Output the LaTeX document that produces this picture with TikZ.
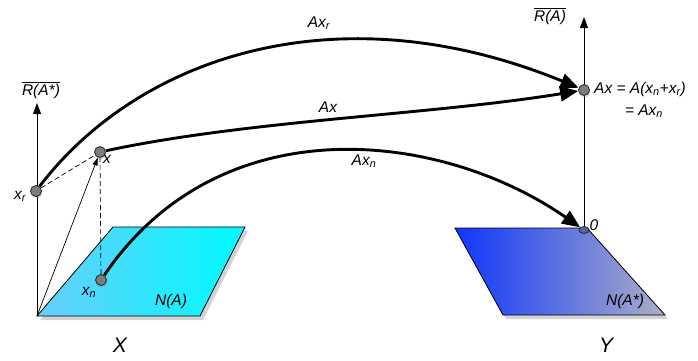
\documentclass[tikz,border=0pt]{standalone}
\usepackage{fontspec}
\setmainfont{Liberation Sans}
\usetikzlibrary{arrows.meta,shadows,shapes.geometric}
\pgfdeclarelayer{planes}
\pgfdeclarelayer{lines}
\pgfsetlayers{planes,lines,main}
\definecolor{cyanL}{RGB}{105,205,250}
\definecolor{cyanR}{RGB}{0,250,255}
\definecolor{blueL}{RGB}{15,55,250}
\definecolor{blueR}{RGB}{172,174,200}
\definecolor{ptgray}{RGB}{125,125,125}
\definecolor{zeroblue}{RGB}{85,100,165}
\newcommand{\subx}[1]{\textsubscript{#1}}
\begin{document}
\begin{tikzpicture}[x=1pt,y=-1pt,
  lbl/.style={font=\fontsize{15.5}{18}\selectfont\itshape, inner sep=0pt},
  bigl/.style={font=\fontsize{21}{24}\selectfont\itshape, inner sep=0pt},
  pt/.style={circle, draw=black!85, line width=0.8pt, fill=ptgray, minimum size=11pt, inner sep=0pt,
    drop shadow={shadow xshift=1pt,shadow yshift=-2pt,opacity=0.3}},
  zpt/.style={ellipse, draw=black!85, line width=0.8pt, fill=zeroblue, minimum width=10pt, minimum height=7pt, inner sep=0pt},
  map/.style={line width=2.9pt, -{Triangle[length=18pt,width=15pt]}},
  axisl/.style={line width=0.8pt, -{Triangle[length=11pt,width=8pt]}},
  thin/.style={line width=0.7pt},
  plane/.style={draw=black, line width=0.8pt,
    drop shadow={shadow xshift=3pt,shadow yshift=-4pt,opacity=0.35}}
]
\useasboundingbox (0,0) rectangle (698,360);

% points
\coordinate (O) at (37,316);
\coordinate (Rs) at (37,103);
\coordinate (O2) at (584,229);
\coordinate (Rt) at (584,17);
\node[pt] (xr) at (36,191) {};
\node[pt] (x) at (100,152) {};
\node[pt] (xn) at (101,280) {};
\node[pt] (Ax) at (584,90) {};
\node[zpt] (zero) at (584,230) {};

\begin{pgfonlayer}{planes}
\shade[plane, left color=cyanL, right color=cyanR]
  (37,316) -- (200,316) -- (245,227) -- (113,227) -- cycle;
\shade[plane, left color=blueL, right color=blueR]
  (455,228) -- (587,228) -- (665,315) -- (503,315) -- cycle;
\end{pgfonlayer}

\begin{pgfonlayer}{lines}
\draw[axisl] (O) -- (Rs);
\draw[axisl] (O2) -- (Rt);
\draw[thin, -{Triangle[length=8pt,width=5pt]}] (O) -- (x);
\draw[thin, dashed, dash pattern=on 5pt off 3pt] (xr) -- (x);
\draw[thin, dashed, dash pattern=on 5pt off 3pt] (xn) -- (x);
\draw[map] (xr) .. controls (140,55) and (340,-10) .. (Ax);
\draw[map] (x) .. controls (250,120) and (430,115) .. (Ax);
\draw[map] (xn) .. controls (220,105) and (440,130) .. (zero);
\end{pgfonlayer}

% labels
\node[lbl] (lRs) at (41,90) {$\overline{\hbox{\itshape R(A*)}}$};
\node[lbl] (lRt) at (550,16) {$\overline{\hbox{\itshape R(A)}}$};
\node[lbl] (lxr) at (20,196) {x\subx{r}};
\node[lbl] (lx) at (107,159) {x};
\node[lbl] (lxn) at (89,292) {x\subx{n}};
\node[lbl] (lNA) at (171,301) {N(A)};
\node[lbl] (lNAs) at (625,301) {N(A*)};
\node[lbl] (l0) at (594,225) {0};
\node[bigl] (lX) at (120,345) {X};
\node[bigl] (lY) at (606,345) {Y};
\node[lbl] (lAxr) at (319,23) {Ax\subx{r}};
\node[lbl] (lAx) at (328,107) {Ax};
\node[lbl] (lAxn) at (364,161) {Ax\subx{n}};
\node[lbl, anchor=west] (lEq) at (594,89) {Ax = A(x\subx{n}+x\subx{r})};
\node[lbl] (lEq2) at (644,111) {= Ax\subx{n}};
\end{tikzpicture}
\end{document}
